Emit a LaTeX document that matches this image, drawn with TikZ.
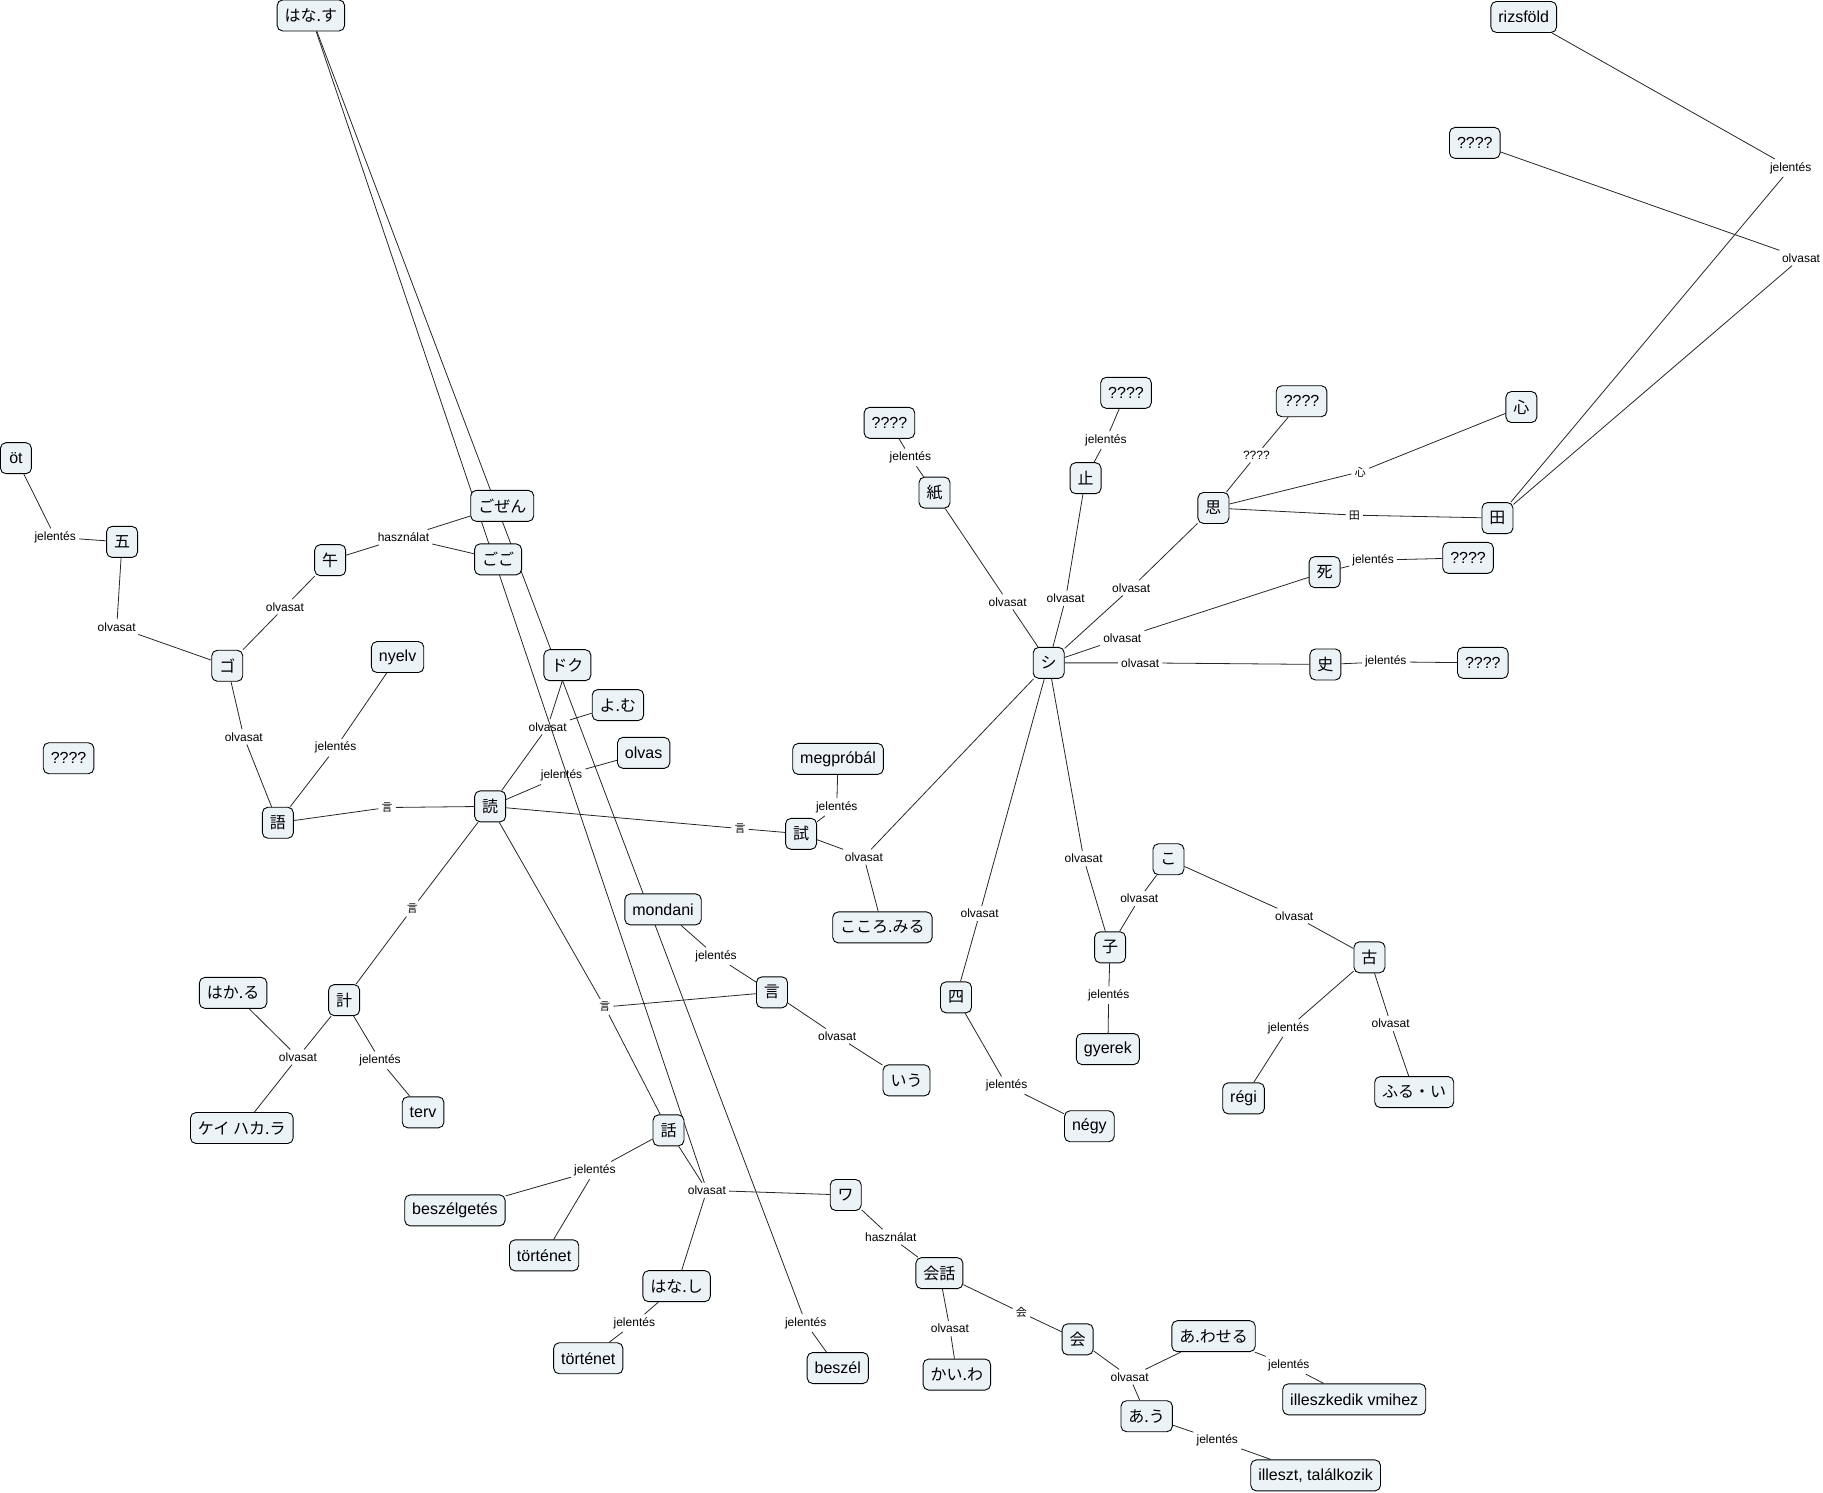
\documentclass[tikz,border=0pt]{standalone}
\usepackage{fontspec}
\setmainfont{Liberation Sans}
\newfontfamily\jp{Noto Sans CJK JP}
\usetikzlibrary{backgrounds}
\definecolor{boxfill}{RGB}{236,243,246}
\begin{document}
\begin{tikzpicture}[x=1.162628pt,y=-1.162899pt,
  box/.style={draw=black, fill=boxfill, rounded corners=5.5pt, line width=0.9pt,
    minimum height=31pt, minimum width=31pt, inner xsep=7.5pt, inner ysep=2pt,
    font=\fontsize{16}{18}\selectfont},
  jbox/.style={box, font=\jp\fontsize{16}{18}\selectfont},
  lab/.style={inner sep=3pt, font=\fontsize{12}{14}\selectfont},
  jlab/.style={lab, font=\jp\fontsize{11}{13}\selectfont},
  conn/.style={draw=black!85, line width=0.8pt}]
\useasboundingbox (0,0) rectangle (1568,1283);
% ---------- concept nodes ----------
\node[jbox] (hanasu) at (267.4,13.3) {はな.す};
\node[box] (rizs) at (1310.6,14.6) {rizsföld};
\node[box] (qTR) at (1268.5,122.9) {????};
\node[box] (ot) at (13.7,394) {öt};
\node[jbox] (go5) at (105,466) {五};
\node[jbox] (gozen) at (432,435) {ごぜん};
\node[jbox] (gogo) at (428.4,481) {ごご};
\node[jbox] (uma) at (284,481.7) {午};
\node[jbox] (goK) at (195.5,572.5) {ゴ};
\node[box] (nyelv) at (342,565) {nyelv};
\node[jbox] (doku) at (488,572) {ドク};
\node[jbox] (yomu) at (531.5,606.3) {よ.む};
\node[box] (olvas) at (553.6,647.4) {olvas};
\node[box] (qL) at (59,652) {????};
\node[jbox] (gokanji) at (239,707.5) {語};
\node[jbox] (yomuK) at (421.6,693.4) {読};
\node[box] (megp) at (720.8,652.6) {megpróbál};
\node[jbox] (tamesu) at (689,717) {試};
\node[jbox] (kokoro) at (759,797.5) {こころ.みる};
\node[box] (mondani) at (570.3,782) {mondani};
\node[jbox] (iuK) at (664,853.3) {言};
\node[jbox] (iu) at (779.7,929) {いう};
\node[jbox] (hakaru) at (200.5,853.8) {はか.る};
\node[jbox] (kei) at (296,860) {計};
\node[jbox] (keih) at (208,970) {ケイ ハカ.ラ};
\node[box] (terv) at (363.9,956.5) {terv};
\node[jbox] (hanashiK) at (575,972) {話};
\node[box] (beszg) at (391.3,1040.8) {beszélgetés};
\node[box] (tort1) at (468,1079.5) {történet};
\node[jbox] (wa) at (727.4,1027.6) {ワ};
\node[jbox] (kaiwa) at (808,1094.8) {会話};
\node[jbox] (hanashi) at (582,1106) {はな.し};
\node[box] (tort2) at (506,1168) {történet};
\node[box] (beszel) at (720.6,1176.4) {beszél};
\node[jbox] (kaiwaR) at (823,1182) {かい.わ};
\node[jbox] (kai) at (926.9,1151.7) {会};
\node[jbox] (awaseru) at (1043.8,1149) {あ.わせる};
\node[box] (illv) at (1164.8,1203.3) {illeszkedik vmihez};
\node[jbox] (au) at (986.3,1217.8) {あ.う};
\node[box] (illt) at (1131.6,1268.7) {illeszt, találkozik};
\node[box] (qKami) at (765,363.6) {????};
\node[jbox] (kami) at (803.8,423.6) {紙};
\node[box] (qTome) at (968.5,337.8) {????};
\node[jbox] (tome) at (933.7,411.2) {止};
\node[box] (qOmo) at (1119.5,345) {????};
\node[jbox] (omo) at (1043.7,436.8) {思};
\node[jbox] (kokoroK) at (1308.6,350) {心};
\node[jbox] (ta) at (1288,445.5) {田};
\node[jbox] (shinu) at (1139.3,492) {死};
\node[box] (qShi) at (1262.7,479.7) {????};
\node[jbox] (shi) at (902,570) {シ};
\node[jbox] (shiH) at (1140,571.4) {史};
\node[box] (qShiH) at (1275.4,570) {????};
\node[jbox] (yon) at (822.3,857.6) {四};
\node[box] (negy) at (937,968.5) {négy};
\node[jbox] (ko) at (1005,738.9) {こ};
\node[jbox] (kodomo) at (954.8,814.6) {子};
\node[box] (gyerek) at (952.9,902.1) {gyerek};
\node[jbox] (furu) at (1177.9,823.2) {古};
\node[box] (regi) at (1069.6,944.5) {régi};
\node[jbox] (furui) at (1216.4,939.1) {ふる・い};
% ---------- linking phrases ----------
\node[lab] (l1) at (47.5,462) {jelentés};
\node[lab] (l2) at (100.4,539) {olvasat};
\node[lab] (l3) at (245,521.8) {olvasat};
\node[lab] (l4) at (347,462) {használat};
\node[lab] (l5) at (209.7,633.6) {olvasat};
\node[lab] (l6) at (288.7,643) {jelentés};
\node[jlab] (l7) at (333,694.4) {言};
\node[lab] (l8) at (471,625) {olvasat};
\node[lab] (l9) at (483,667) {jelentés};
\node[jlab] (l10) at (636.5,712.5) {言};
\node[lab] (l11) at (719.7,693.9) {jelentés};
\node[lab] (l12) at (743,736.9) {olvasat};
\node[jlab] (l13) at (354.7,781.3) {言};
\node[lab] (l14) at (256.3,909) {olvasat};
\node[lab] (l15) at (326.9,911.8) {jelentés};
\node[jlab] (l16) at (520.2,865.9) {言};
\node[lab] (l17) at (615.9,822.3) {jelentés};
\node[lab] (l18) at (720,891) {olvasat};
\node[lab] (l19) at (511.7,1006.4) {jelentés};
\node[lab] (l20) at (608,1023.6) {olvasat};
\node[lab] (l21) at (545.6,1137.7) {jelentés};
\node[lab] (l22) at (693,1137.7) {jelentés};
\node[lab] (l23) at (766.2,1063.7) {használat};
\node[lab] (l24) at (817,1142.5) {olvasat};
\node[jlab] (l25) at (878.5,1128.8) {会};
\node[lab] (l26) at (971.6,1184.1) {olvasat};
\node[lab] (l27) at (1108.5,1174) {jelentés};
\node[lab] (l28) at (1047,1238.6) {jelentés};
\node[lab] (l29) at (783,393.4) {jelentés};
\node[lab] (l30) at (866.7,517.5) {olvasat};
\node[lab] (l31) at (951.2,378.5) {jelentés};
\node[lab] (l32) at (916.6,514.6) {olvasat};
\node[lab] (l33) at (1080.6,391.4) {????};
\node[lab] (l34) at (973,505.5) {olvasat};
\node[jlab] (l35) at (1170,405.7) {心};
\node[jlab] (l36) at (1165,443) {田};
\node[lab] (l37) at (1181,481.7) {jelentés};
\node[lab] (l38) at (965.3,548.5) {olvasat};
\node[lab] (l39) at (980.7,570) {olvasat};
\node[lab] (l40) at (1191.9,569.1) {jelentés};
\node[lab] (l41) at (1540.2,144.4) {jelentés};
\node[lab] (l42) at (1549.1,221.8) {olvasat};
\node[lab] (l43) at (842.6,785.6) {olvasat};
\node[lab] (l44) at (865.8,933.3) {jelentés};
\node[lab] (l45) at (932.1,738.3) {olvasat};
\node[lab] (l46) at (979.9,772.7) {olvasat};
\node[lab] (l47) at (953.6,855.8) {jelentés};
\node[lab] (l48) at (1113.2,787.6) {olvasat};
\node[lab] (l49) at (1108.2,884) {jelentés};
\node[lab] (l50) at (1196.1,880.2) {olvasat};
% ---------- connectors ----------
\begin{scope}[on background layer]
\draw[conn] (ot) -- (l1) -- (go5);
\draw[conn] (go5) -- (l2) -- (goK);
\draw[conn] (goK) -- (l3) -- (uma);
\draw[conn] (uma) -- (l4);
\draw[conn] (l4) -- (gozen);
\draw[conn] (l4) -- (gogo);
\draw[conn] (goK) -- (l5) -- (gokanji);
\draw[conn] (gokanji) -- (l6) -- (nyelv);
\draw[conn] (gokanji) -- (l7) -- (yomuK);
\draw[conn] (yomuK) -- (l8) -- (doku);
\draw[conn] (l8) -- (yomu);
\draw[conn] (yomuK) -- (l9) -- (olvas);
\draw[conn] (yomuK) -- (l10) -- (tamesu);
\draw[conn] (tamesu) -- (l11) -- (megp);
\draw[conn] (tamesu) -- (l12) -- (kokoro);
\draw[conn] (l12) -- (shi);
\draw[conn] (yomuK) -- (l13) -- (kei);
\draw[conn] (kei) -- (l14) -- (hakaru);
\draw[conn] (l14) -- (keih);
\draw[conn] (kei) -- (l15) -- (terv);
\draw[conn] (yomuK) -- (l16) -- (hanashiK);
\draw[conn] (l16) -- (iuK);
\draw[conn] (mondani) -- (l17) -- (iuK);
\draw[conn] (iuK) -- (l18) -- (iu);
\draw[conn] (hanashiK) -- (l19) -- (beszg);
\draw[conn] (l19) -- (tort1);
\draw[conn] (hanashiK) -- (l20) -- (wa);
\draw[conn] (l20) -- (hanashi);
\draw[conn] (l20) -- (hanasu);
\draw[conn] (hanashi) -- (l21) -- (tort2);
\draw[conn] (hanasu) -- (l22) -- (beszel);
\draw[conn] (wa) -- (l23) -- (kaiwa);
\draw[conn] (kaiwa) -- (l24) -- (kaiwaR);
\draw[conn] (kaiwa) -- (l25) -- (kai);
\draw[conn] (kai) -- (l26) -- (awaseru);
\draw[conn] (l26) -- (au);
\draw[conn] (awaseru) -- (l27) -- (illv);
\draw[conn] (au) -- (l28) -- (illt);
\draw[conn] (qKami) -- (l29) -- (kami);
\draw[conn] (kami) -- (l30) -- (shi);
\draw[conn] (qTome) -- (l31) -- (tome);
\draw[conn] (tome) -- (l32) -- (shi);
\draw[conn] (qOmo) -- (l33) -- (omo);
\draw[conn] (omo) -- (l34) -- (shi);
\draw[conn] (omo) -- (l35) -- (kokoroK);
\draw[conn] (omo) -- (l36) -- (ta);
\draw[conn] (shinu) -- (l37) -- (qShi);
\draw[conn] (shinu) -- (l38) -- (shi);
\draw[conn] (shi) -- (l39) -- (shiH);
\draw[conn] (shiH) -- (l40) -- (qShiH);
\draw[conn] (ta) -- (l41) -- (rizs);
\draw[conn] (ta) -- (l42) -- (qTR);
\draw[conn] (shi) -- (l43) -- (yon);
\draw[conn] (yon) -- (l44) -- (negy);
\draw[conn] (shi) -- (l45) -- (kodomo);
\draw[conn] (kodomo) -- (l46) -- (ko);
\draw[conn] (kodomo) -- (l47) -- (gyerek);
\draw[conn] (ko) -- (l48) -- (furu);
\draw[conn] (furu) -- (l49) -- (regi);
\draw[conn] (furu) -- (l50) -- (furui);
\end{scope}
\end{tikzpicture}
\end{document}
